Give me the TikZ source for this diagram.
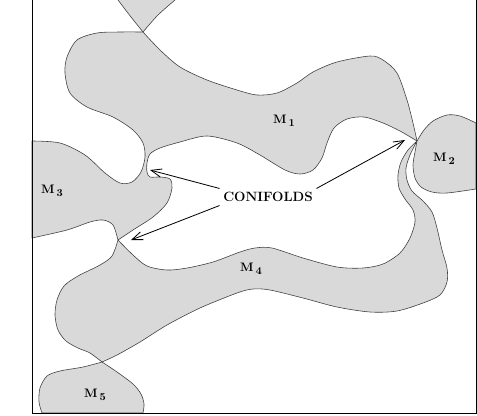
\documentclass[tikz,border=0pt]{standalone}
\usepackage{xcolor}
\usepackage{tikz}
\usetikzlibrary{arrows.meta, positioning, calc}

\newcommand{\mlab}[1]{M\,\raisebox{-3pt}{\fontsize{9}{10}\selectfont #1}}

\begin{document}
\begin{tikzpicture}[
    x=0.03cm, y=-0.03cm,
    >={Straight Barb[length=9pt,width=7pt]},
    region/.style={fill=black!15, draw=black!75, line width=0.5pt},
    frame/.style={draw=black, line width=0.8pt},
    mlbl/.style={font=\fontsize{10.5}{12}\selectfont\bfseries, inner sep=0pt},
    conlbl/.style={font=\fontsize{11.5}{13}\selectfont\bfseries, inner sep=3pt},
    pointer/.style={->, line width=0.7pt, black}
]
\useasboundingbox (0,0) rectangle (477,415);

% ============================================================
% 1. REGIONS
% ============================================================
% top piece (cut by the frame)
\filldraw[region] (116,-4) -- plot[smooth] coordinates {(118,0) (131,17) (143,32)}
    -- plot[smooth] coordinates {(143,32) (158,15) (175,0)} -- (177,-4) -- cycle;

% M1 and M3
\filldraw[region] plot[smooth] coordinates {(32,141) (60,143) (85,155) (105,173) (120,183)
        (132,182) (141,172) (145,157) (143,143) (133,130) (113,117) (87,107) (70,93)
        (65,73) (67,57) (77,40) (97,33) (120,32) (143,32)}
    -- plot[smooth] coordinates {(143,32) (160,50) (180,67) (207,80) (237,90) (257,95)
        (277,93) (297,83) (313,72) (337,62) (370,56) (383,60) (397,73) (407,100)
        (413,123) (417,141)}
    -- plot[smooth] coordinates {(417,141) (400,131) (383,123) (364,117) (347,119)
        (334,128) (327,143) (322,158) (313,170) (300,174) (285,170) (260,155)
        (237,143) (207,136) (180,142) (160,148) (150,154) (147,163) (147,172)
        (150,177) (160,177) (170,179) (172,188) (167,203) (153,217) (133,230) (118,240)}
    -- plot[smooth] coordinates {(118,240) (113,225) (103,220) (90,222) (67,230) (32,238)}
    -- cycle;

% M4
\filldraw[region] plot[smooth] coordinates {(118,240) (133,255) (147,266) (167,270)
        (187,268) (213,262) (240,252) (255,248) (272,248) (303,258) (337,267)
        (363,268) (383,264) (400,253) (410,238) (415,222) (413,210) (405,199)
        (399,188) (398,175) (401,162) (408,150) (417,141)}
    -- plot[smooth] coordinates {(417,141) (410,155) (406,168) (407,180) (412,191)
        (423,201) (432,212) (437,228) (442,250) (447,268) (447,282) (440,295)
        (423,303) (397,311) (370,312) (337,307) (303,298) (270,290) (253,289)
        (237,293) (200,308) (167,325) (140,342) (117,355) (102,362)}
    -- plot[smooth] coordinates {(102,362) (90,353) (78,348) (66,341) (58,330)
        (55,315) (57,300) (64,286) (78,276) (100,265) (112,256) (118,240)}
    -- cycle;

% M2
\filldraw[region] plot[smooth] coordinates {(417,141) (424,130) (433,121) (447,115)
        (460,116) (476,123)}
    -- plot[smooth] coordinates {(476,189) (447,193) (432,192) (421,187) (415,178)
        (413,165) (415,152) (417,141)}
    -- cycle;

% M5
\filldraw[region] plot[smooth] coordinates {(102,362) (83,367) (60,371) (47,376)
        (40,388) (39,402) (42,413)}
    -- plot[smooth] coordinates {(143,413) (144,404) (141,394) (133,384) (117,372) (102,362)}
    -- cycle;

% frame
\draw[frame] (32,-2) -- (32,413) -- (476,413) -- (476,-2);

% ============================================================
% 2. LABELS
% ============================================================
\node[mlbl] (m1) at (284,121) {\mlab{1}};
\node[mlbl] (m2) at (444,159) {\mlab{2}};
\node[mlbl] (m3) at (52,191)  {\mlab{3}};
\node[mlbl] (m4) at (251,269) {\mlab{4}};
\node[mlbl] (m5) at (95,395)  {\mlab{5}};

% ============================================================
% 3. CONIFOLDS
% ============================================================
\coordinate (cfLeft)  at (150,170);
\coordinate (cfLow)   at (131,240);
\coordinate (cfRight) at (405,140);

\node[conlbl] (conif) at (268,197) {CONIFOLDS};

\draw[pointer] (conif.north west) -- (cfLeft);
\draw[pointer] (conif.south west) -- (cfLow);
\draw[pointer] (conif.north east) -- (cfRight);

\end{tikzpicture}
\end{document}
